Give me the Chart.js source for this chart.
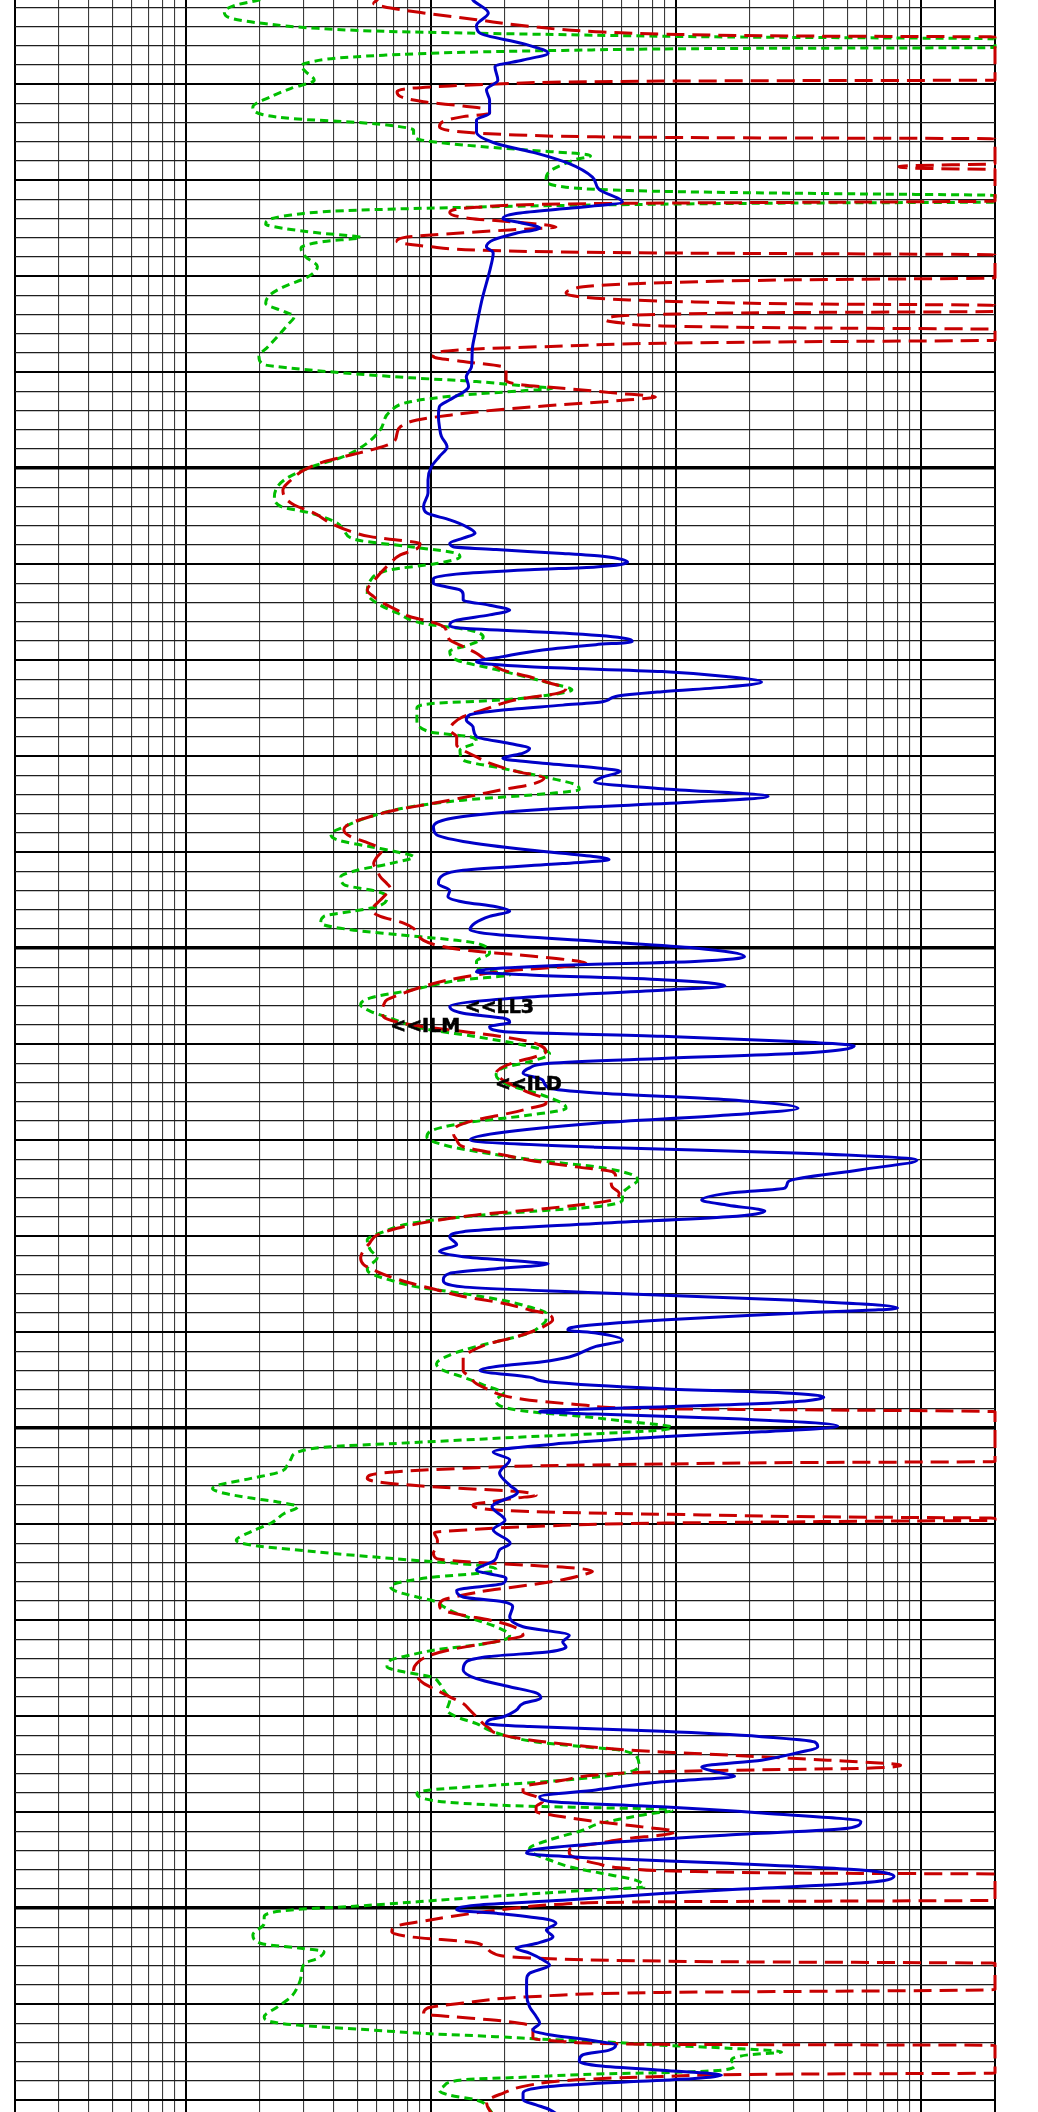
<!DOCTYPE html>
<html><head><meta charset="utf-8">
<script src="https://cdn.jsdelivr.net/npm/chart.js@4.4.1/dist/chart.umd.min.js"></script>
<style>html,body{margin:0;padding:0;background:#fff;}canvas{display:block;}</style>
</head><body>
<canvas id="c" width="1038" height="2112"></canvas>
<script>
// ---- LL3 (blue, solid) ----
const ll3Depth = [
4000.2,4001.25,4002.6,4003.9,4004.7,4005.8,4006.8,4007.5,4008.2,4009.6,
4010.6,4011.7,4013.05,4013.75,4015.0,4016.2,4017.2,4018.3,4019.7,4021.0,
4022.3,4023.0,4023.5,4024.0,4024.5,4025.0,4025.55,4026.25,4026.95,4027.6,
4029.0,4032.5,4036.0,4037.7,4039.45,4040.5,4041.5,4042.9,4043.6,4044.65,
4045.7,4046.7,4047.8,4048.8,4049.9,4051.25,4052.6,4054.0,4054.7,4055.4,
4056.1,4056.8,4057.3,4057.85,4058.2,4058.5,4058.9,4059.2,4059.8,4060.3,
4060.6,4061.0,4061.5,4062.0,4062.7,4063.2,4063.75,4064.3,4064.8,4065.3,
4065.85,4066.35,4066.7,4067.2,4067.7,4068.1,4068.4,4068.95,4069.65,4070.2,
4070.7,4071.2,4071.75,4072.3,4072.8,4073.3,4073.8,4074.35,4074.7,4075.2,
4075.7,4076.25,4076.95,4078.0,4078.7,4079.2,4079.7,4080.25,4080.8,4081.3,
4081.6,4082.2,4082.7,4083.4,4084.2,4084.8,4085.45,4086.3,4087.4,4088.2,
4088.9,4089.8,4090.5,4090.8,4091.2,4091.9,4092.4,4093.3,4094.0,4094.65,
4095.2,4095.7,4096.15,4096.7,4097.4,4098.1,4098.6,4099.3,4100.0,4100.9,
4101.4,4101.8,4102.2,4102.5,4102.8,4103.3,4103.95,4104.4,4105.1,4106.1,
4106.8,4107.3,4107.75,4108.2,4108.7,4109.2,4109.75,4110.2,4111.0,4111.5,
4112.0,4112.5,4113.05,4113.75,4114.6,4115.1,4115.8,4116.7,4117.4,4118.25,
4119.3,4120.0,4120.75,4121.35,4122.1,4123.1,4124.35,4125.0,4125.55,4126.25,
4126.8,4127.4,4128.0,4128.7,4129.55,4130.1,4130.9,4131.6,4132.15,4132.7,
4132.9,4133.4,4133.9,4134.6,4135.3,4135.9,4136.7,4137.5,4138.05,4138.75,
4139.45,4139.8,4140.1,4140.85,4141.5,4142.6,4143.1,4143.6,4144.0,4144.7,
4145.2,4145.9,4146.4,4146.8,4147.45,4148.0,4148.3,4148.55,4149.0,4149.8,
4150.4,4150.9,4151.6,4152.5,4153.3,4154.7,4156.0,4156.7,4158.2,4159.6,
4160.6,4162.0,4162.7,4163.75,4164.8,4165.65,4166.2,4166.9,4167.6,4168.1,
4168.6,4169.7,4170.7,4171.6,4172.3,4172.8,4173.3,4173.8,4174.35,4175.2,
4176.1,4176.95,4177.6,4178.15,4178.7,4179.4,4180.1,4180.4,4180.8,4181.1,
4181.6,4182.15,4182.7,4183.2,4183.9,4184.6,4185.3,4185.8,4186.3,4186.85,
4187.7,4188.4,4188.9,4189.45,4190.1,4191.0,4191.7,4192.4,4193.3,4194.0,
4194.3,4194.8,4195.35,4196.05,4196.7,4197.4,4198.1,4198.5,4199.2,4199.7,
4200.2,4200.55,4201.1,4201.6,4202.3,4203.0,4203.7,4204.2,4204.7,4205.4,
4205.95,4206.8,4207.5,4208.9,4210.3,4211.3,4212.0,4212.7,4213.2,4213.75,
4214.3,4214.8,4215.3,4215.9,4216.4,4216.9,4217.4,4217.75,4218.1,4218.6,
4219.3,4220.0,4220.5,4221.0,4222.6
];
const ll3Value = [
14.4,14.8,17.1,15.3,15.8,23.7,30.0,23.7,18.2,18.7,
16.8,17.3,17.3,15.3,15.3,18.4,26.8,36.6,45.5,48.5,
60.3,34.4,22.2,19.6,23.7,27.7,22.2,17.9,16.8,17.9,
17.5,16.1,15.1,14.7,14.6,13.9,14.2,11.9,10.8,10.7,
10.8,11.0,11.6,10.8,10.0,9.7,9.7,9.3,9.6,11.9,
13.9,15.1,13.5,11.9,12.3,18.4,34.4,50.0,63.3,47.0,
25.2,13.5,10.2,10.2,13.1,13.5,13.5,17.3,20.9,17.3,
12.7,11.9,13.5,34.4,60.3,66.1,47.0,28.5,19.6,15.3,
25.2,87.5,163,223,163,87.5,56.6,50.0,34.4,19.6,
14.4,13.9,14.8,15.3,20.9,25.2,23.7,19.6,30.4,50.0,
59.0,50.0,46.4,87.5,237,119,34.4,13.5,10.2,10.5,
13.5,25.2,47.0,53.2,34.4,13.5,11.2,10.7,11.9,11.7,
13.5,18.4,20.9,17.3,15.1,14.4,18.4,47.0,119,190,
119,34.4,17.3,15.3,25.2,87.5,158,87.5,25.2,11.9,
13.5,19.6,20.9,17.3,19.6,87.5,304,533,304,87.5,
30.4,25.2,23.7,28.5,30.4,47.0,163,314,163,47.0,
18.4,14.4,47.0,304,960,567,286,278,163,127,
163,230,163,47.0,13.5,11.9,12.7,10.8,13.5,25.2,
30.0,18.4,11.9,11.2,13.5,47.0,304,800,304,87.5,
39.0,36.1,47.0,60.3,47.0,36.6,28.5,18.4,15.8,25.2,
30.4,87.5,304,400,223,47.0,27.7,47.0,163,456,
223,87.5,34.4,17.9,20.9,19.0,21.0,22.5,17.7,20.0,
17.9,21.0,19.0,18.2,15.3,20.2,19.6,12.7,13.5,19.6,
21.5,20.9,23.7,36.6,34.4,35.5,30.4,17.3,13.9,13.5,
15.3,20.9,26.8,28.0,23.7,22.2,19.6,17.3,16.8,25.2,
87.5,223,367,378,304,223,127,144,173,87.5,
47.0,27.7,30.4,87.5,223,567,501,163,47.0,25.2,
24.5,47.0,163,567,774,567,163,87.5,34.4,15.3,
12.7,18.4,28.5,32.3,29.5,31.4,26.8,22.2,25.2,28.5,
30.4,25.2,24.5,24.5,25.2,26.8,27.7,26.0,30.4,44.1,
56.6,53.2,41.5,40.2,47.0,87.5,153,119,64.1,30.4,
23.7,23.7,26.8,30.4,36.6
];

// ---- ILM (green, short dash) ----
const ilmDepth = [
4000.2,4001.25,4001.8,4002.5,4003.2,4003.7,4004.2,4004.55,4004.8,4005.1,
4005.3,4006.2,4006.3,4006.5,4006.7,4007.0,4007.3,4007.7,4008.1,4008.7,
4009.6,4010.45,4011.3,4012.4,4013.2,4013.65,4014.0,4014.4,4014.8,4015.3,
4015.8,4016.35,4016.9,4017.3,4017.5,4017.85,4018.4,4019.1,4020.0,4020.7,
4021.1,4021.3,4021.45,4021.6,4022.3,4022.4,4022.6,4022.85,4023.2,4023.65,
4024.2,4024.6,4025.05,4025.5,4026.0,4026.4,4027.1,4028.0,4029.0,4030.1,
4031.1,4032.0,4032.85,4033.7,4034.2,4035.1,4036.3,4037.4,4038.4,4039.2,
4039.6,4040.1,4040.6,4041.0,4041.5,4041.7,4041.95,4042.4,4043.1,4044.1,
4046.0,4047.4,4048.8,4049.9,4051.25,4053.0,4054.0,4054.7,4055.75,4056.5,
4057.5,4058.2,4058.9,4059.25,4059.95,4060.6,4061.7,4063.05,4064.1,4065.1,
4066.2,4066.9,4067.6,4068.4,4069.1,4070.0,4071.0,4072.4,4073.1,4073.65,
4074.2,4074.5,4075.0,4076.25,4077.5,4078.0,4078.5,4079.4,4080.4,4081.3,
4082.3,4083.0,4083.5,4083.9,4084.6,4085.3,4086.3,4087.4,4088.1,4088.75,
4089.45,4090.0,4090.5,4091.2,4091.9,4092.6,4093.4,4094.1,4094.65,4095.7,
4096.2,4096.7,4097.4,4098.1,4098.6,4099.2,4099.5,4100.55,4101.4,4102.1,
4102.8,4103.3,4104.4,4105.2,4105.9,4106.6,4107.3,4108.4,4109.25,4110.1,
4111.0,4111.85,4112.5,4113.25,4114.3,4115.1,4116.2,4116.7,4117.4,4118.25,
4119.1,4119.7,4120.5,4121.2,4122.1,4122.8,4123.5,4124.2,4124.9,4125.6,
4126.25,4126.95,4127.45,4128.0,4128.7,4129.55,4130.4,4131.45,4132.3,4133.4,
4133.9,4134.6,4135.3,4136.0,4136.7,4137.4,4138.05,4138.75,4139.45,4140.1,
4140.85,4141.5,4142.4,4143.3,4144.0,4144.7,4145.5,4146.4,4147.1,4147.8,
4148.3,4148.8,4149.35,4149.9,4150.2,4150.6,4150.9,4151.25,4151.6,4151.95,
4152.5,4153.2,4153.85,4154.55,4155.25,4155.95,4156.3,4156.8,4157.3,4157.7,
4158.2,4158.9,4159.9,4160.8,4161.7,4162.2,4162.7,4163.05,4163.4,4163.75,
4164.1,4164.45,4164.8,4165.15,4165.5,4166.0,4166.5,4167.05,4167.6,4168.1,
4168.6,4169.3,4170.0,4170.7,4171.6,4172.1,4172.6,4173.1,4173.65,4174.2,
4174.9,4175.4,4175.9,4176.6,4177.3,4178.35,4179.4,4180.1,4180.8,4181.5,
4182.15,4182.7,4183.2,4183.5,4183.9,4184.4,4185.1,4185.6,4186.1,4186.7,
4187.2,4187.7,4188.05,4188.6,4189.1,4189.4,4189.55,4189.7,4189.9,4190.1,
4190.7,4191.2,4191.9,4192.9,4193.8,4194.3,4195.0,4195.7,4196.4,4197.1,
4197.8,4198.1,4199.0,4199.8,4200.2,4200.9,4201.6,4202.8,4203.7,4204.2,
4204.55,4205.25,4205.8,4207.2,4208.2,4209.25,4210.3,4211.35,4211.85,4212.2,
4212.7,4213.1,4213.4,4213.7,4213.9,4214.3,4214.6,4215.0,4215.3,4215.85,
4216.4,4216.9,4217.15,4217.3,4217.6,4217.9,4218.6,4219.0,4219.5,4220.0,
4221.0,4222.6
];
const ilmValue = [
2.51,1.98,1.58,1.43,1.55,2.08,3.43,7.25,25.2,163,
2000,2000,163,34.4,13.5,6.40,4.14,3.23,2.94,3.07,
3.33,2.68,2.22,1.87,2.06,2.85,4.99,7.25,8.47,8.47,
9.0,13.5,25.2,41.5,44.7,39.0,34.4,30.4,29.4,34.4,
64.1,163,567,2000,2000,304,47.0,13.5,4.40,2.68,
2.15,2.11,2.51,3.43,5.15,3.65,2.94,3.07,3.43,3.13,
2.51,2.19,2.11,2.51,2.76,2.59,2.36,2.15,1.98,2.06,
2.68,4.40,8.21,15.3,25.2,31.3,23.7,13.5,8.21,6.81,
6.20,5.48,4.40,3.23,2.51,2.29,2.43,3.23,4.14,4.40,
4.99,8.21,12.7,13.1,10.5,6.81,5.65,5.48,6.01,7.25,
9.30,14.4,16.3,14.4,11.9,12.7,18.4,30.4,37.5,30.4,
18.4,10.5,8.74,8.74,9.90,14.4,15.3,13.1,13.5,19.6,
30.4,39.0,40.2,30.4,13.5,8.21,5.65,4.40,3.89,4.14,
5.65,7.25,8.47,6.81,4.99,4.27,4.40,6.01,6.60,6.01,
4.69,3.65,3.54,4.69,7.25,12.7,15.3,17.3,15.3,15.3,
20.9,13.5,8.21,5.65,5.15,5.65,6.81,9.30,15.3,23.7,
30.4,25.2,19.6,18.4,20.9,26.8,34.4,35.5,25.2,13.5,
9.90,9.60,11.2,15.3,26.8,47.0,64.1,69.5,64.1,60.3,
60.3,47.0,25.2,13.5,8.21,6.40,5.48,5.65,6.01,5.48,
5.65,6.81,8.74,13.5,19.6,25.2,29.4,29.4,27.7,25.2,
19.6,15.3,11.9,10.5,11.2,13.5,16.3,19.6,18.4,19.6,
25.2,41.5,64.1,96,87.5,47.0,25.2,13.5,7.25,3.89,
2.85,2.68,2.59,2.43,1.84,1.35,1.28,1.43,1.84,2.36,
2.85,2.51,2.22,1.84,1.60,1.84,2.85,3.89,5.65,8.21,
12.7,17.3,18.4,15.3,10.5,7.71,6.81,7.25,8.74,10.5,
11.2,12.7,15.3,18.4,20.9,19.6,15.3,10.5,8.21,6.81,
6.60,7.71,9.90,10.8,11.2,11.9,11.6,12.7,15.3,17.3,
20.9,26.8,41.5,56.6,66.1,69.5,70.4,68.2,56.6,34.4,
18.4,9.90,8.74,9.30,13.5,25.2,47.0,87.5,96,82.2,
60.3,48.5,41.5,30.4,25.2,26.0,30.4,36.6,50.0,68.2,
73.9,47.0,13.5,4.99,2.68,2.08,2.08,1.87,2.02,2.94,
3.65,3.43,3.03,2.94,2.85,2.68,2.36,2.08,2.22,2.85,
5.65,9.90,18.4,30.4,47.0,87.5,163,269,196,168,
173,153,87.5,47.0,25.2,13.5,11.2,10.8,11.9,15.3,
17.3,18.4
];

// ---- ILD (red, long dash) ----
const ildDepth = [
4000.2,4001.25,4001.6,4001.95,4002.6,4003.3,4004.0,4004.55,4004.8,4005.0,
4005.1,4009.6,4009.65,4009.7,4009.8,4010.0,4010.2,4010.45,4010.8,4011.3,
4011.85,4012.3,4012.7,4013.05,4013.4,4013.9,4014.45,4015.0,4015.3,4015.5,
4015.6,4015.7,4018.3,4018.5,4018.6,4018.8,4018.9,4022.2,4022.3,4022.4,
4022.5,4022.85,4023.4,4024.0,4024.45,4024.9,4025.2,4025.55,4026.0,4026.4,
4026.95,4027.3,4027.5,4027.6,4027.8,4030.2,4030.4,4030.7,4031.0,4031.5,
4031.8,4032.2,4032.5,4032.7,4032.9,4033.05,4033.7,4033.8,4034.0,4034.2,
4034.6,4034.9,4035.2,4035.4,4035.55,4036.7,4036.85,4037.0,4037.3,4037.6,
4038.0,4038.4,4038.9,4039.45,4039.7,4040.85,4041.35,4041.7,4042.2,4042.6,
4042.9,4043.4,4043.95,4044.5,4045.0,4045.7,4046.4,4047.3,4047.95,4048.65,
4049.35,4050.2,4051.25,4052.3,4053.2,4053.85,4054.7,4055.75,4056.6,4057.15,
4057.5,4057.85,4058.4,4059.05,4059.9,4060.95,4061.8,4062.7,4063.4,4064.1,
4064.8,4065.5,4066.0,4066.5,4067.2,4067.9,4068.6,4069.3,4069.8,4070.5,
4071.05,4071.75,4072.4,4072.95,4073.5,4074.0,4074.5,4075.2,4075.9,4076.6,
4077.3,4078.0,4078.85,4079.4,4080.1,4080.75,4081.6,4082.3,4083.0,4083.5,
4084.05,4084.6,4085.1,4085.6,4086.3,4087.0,4087.7,4088.4,4088.9,4089.45,
4090.0,4090.5,4091.2,4091.9,4092.6,4093.3,4093.8,4094.3,4095.0,4095.7,
4096.2,4096.7,4097.4,4097.95,4098.5,4099.2,4099.7,4100.2,4100.7,4101.25,
4101.6,4101.95,4102.3,4102.8,4103.3,4104.0,4104.7,4105.4,4105.9,4106.5,
4107.2,4107.7,4108.2,4108.7,4109.25,4109.75,4110.3,4110.8,4111.3,4111.85,
4112.4,4113.05,4113.75,4114.45,4115.1,4115.8,4116.2,4116.7,4117.2,4117.9,
4118.6,4119.3,4120.0,4120.7,4121.4,4122.1,4122.8,4123.3,4123.8,4124.35,
4124.9,4125.55,4126.25,4126.8,4127.3,4127.8,4128.5,4129.2,4129.9,4130.8,
4131.65,4132.3,4133.0,4133.7,4134.25,4134.9,4135.6,4136.3,4137.0,4137.7,
4138.2,4138.75,4139.3,4139.8,4140.5,4141.2,4141.9,4142.6,4143.3,4144.0,
4144.7,4145.4,4146.05,4146.6,4147.1,4147.6,4148.0,4148.1,4148.3,4153.5,
4153.6,4153.75,4153.95,4154.2,4154.55,4154.9,4155.25,4155.6,4155.95,4156.3,
4156.6,4157.0,4157.3,4157.7,4158.0,4158.55,4158.85,4159.05,4159.25,4159.4,
4159.6,4159.75,4159.9,4160.2,4160.6,4160.9,4161.7,4162.4,4163.05,4163.6,
4163.9,4164.3,4164.6,4164.95,4165.3,4165.8,4166.35,4166.9,4167.4,4167.9,
4168.45,4169.0,4169.5,4170.0,4170.55,4171.05,4171.6,4172.1,4172.6,4173.1,
4173.8,4174.5,4175.2,4175.9,4176.6,4177.3,4178.0,4178.7,4179.4,4180.1,
4180.8,4181.3,4181.8,4182.5,4183.05,4183.6,4183.9,4184.25,4184.6,4184.95,
4185.1,4185.45,4185.6,4185.8,4186.15,4186.7,4187.4,4187.9,4188.4,4188.9,
4189.45,4189.95,4190.5,4191.0,4191.55,4192.05,4192.4,4192.75,4193.3,4193.6,
4194.0,4194.3,4194.8,4195.35,4195.9,4196.2,4196.4,4196.45,4199.2,4199.35,
4199.6,4200.0,4200.5,4201.25,4202.0,4202.5,4203.0,4203.65,4204.7,4205.2,
4205.6,4205.75,4208.5,4208.8,4209.25,4209.9,4210.45,4211.0,4211.3,4211.7,
4212.2,4212.5,4213.6,4213.9,4214.2,4214.3,4217.2,4217.3,4217.55,4217.9,
4218.45,4219.3,4220.2,4221.1,4222.6
];
const ildValue = [
6.40,6.01,5.82,6.40,9.30,15.3,25.2,47.0,87.5,304,
2000,2000,304,87.5,34.4,18.4,11.9,8.21,7.25,7.48,
9.30,13.5,17.3,17.3,13.5,11.2,10.8,13.5,22.2,47.0,
163,2000,2000,933,810,1057,2000,2000,567,87.5,
34.4,15.3,11.9,14.4,23.7,32.3,20.9,12.7,7.71,7.25,
9.90,15.3,34.4,87.5,2000,2000,304,87.5,47.0,36.6,
35.5,41.5,64.1,119,304,2000,2000,304,87.5,56.6,
51.6,60.3,87.5,304,2000,2000,304,87.5,34.4,15.3,
10.5,10.2,13.5,19.6,20.2,20.2,23.7,34.4,56.6,82.2,
64.1,34.4,18.4,11.9,8.74,7.48,7.25,7.02,6.01,4.69,
3.65,3.03,2.68,2.48,2.55,2.76,3.33,3.89,4.69,5.65,
7.25,9.0,8.74,7.48,6.81,6.20,5.82,5.48,5.82,6.40,
7.25,8.21,9.90,11.2,11.6,11.9,13.5,15.3,16.3,17.9,
19.6,25.2,30.4,35.5,32.3,23.7,19.6,16.3,13.5,12.3,
11.9,12.7,12.7,13.5,15.3,17.3,22.2,28.9,25.2,19.6,
15.3,11.9,9.30,7.25,5.65,4.69,4.40,4.69,5.31,6.01,
6.25,6.01,5.82,6.01,6.20,6.60,6.81,6.60,6.20,5.82,
5.76,6.20,7.71,8.47,8.74,9.30,10.5,13.5,22.2,36.6,
42.8,34.4,22.2,15.3,11.9,9.30,7.71,6.60,6.40,6.30,
6.40,7.25,9.30,13.5,19.6,25.2,28.5,29.4,26.8,22.2,
19.6,18.4,19.6,22.2,25.2,29.4,29.4,25.2,20.9,15.3,
12.7,12.3,12.7,13.5,18.4,25.2,39.0,54.9,56.6,54.2,
54.9,58.5,54.9,39.0,25.2,15.3,9.90,7.25,6.01,5.58,
5.25,5.15,5.31,6.01,6.81,8.21,10.5,13.5,19.6,25.2,
30.4,31.3,29.4,26.8,22.2,17.3,14.8,13.5,13.5,13.5,
14.4,15.3,17.3,19.6,25.2,41.5,87.5,304,2000,2000,
304,87.5,25.2,13.5,7.25,5.65,5.48,6.01,8.21,13.5,
22.2,26.8,22.2,17.3,14.8,18.4,42.9,129,387,2000,
2000,387,89,29.7,14.3,10.3,10.6,10.5,10.2,10.5,
13.5,25.2,39.0,45.5,41.5,34.4,25.2,17.3,13.5,11.2,
10.8,11.2,13.5,17.3,20.9,22.9,23.7,19.6,15.3,11.9,
9.60,8.74,8.47,8.74,9.30,10.5,11.9,13.5,14.4,15.3,
16.3,17.3,18.4,25.2,39.0,68.2,119,223,415,728,
824,567,223,87.5,47.0,34.4,23.7,23.7,26.8,28.5,
26.8,26.8,34.4,47.0,72.6,99.1,87.5,64.1,47.0,39.0,
36.6,36.6,39.0,47.0,64.1,119,567,2000,2000,87.5,
34.4,22.2,15.3,9.90,7.02,6.90,8.21,15.3,17.9,25.2,
163,2000,2000,87.5,25.2,13.5,9.60,9.30,11.9,18.4,
25.2,26.0,26.0,34.4,87.5,2000,2000,304,87.5,39.0,
25.2,19.6,16.8,17.3,19.6
];

// ---- curve labels ----
const labelText  = ['<<LL3', '<<ILM', '<<ILD'];
const labelValue = [13.7, 6.8, 18.2];
const labelDepth = [4106.8, 4108.8, 4114.8];

// ---- grid / axis definitions ----
const xGridValues = [0.2,0.3,0.4,0.5,0.6,0.7,0.8,0.9,
  1,2,3,4,5,6,7,8,9, 10,20,30,40,50,60,70,80,90,
  100,200,300,400,500,600,700,800,900, 1000,2000];
const xMin = 0.2, xMax = 2000;
const depthTop = 4001.25, depthBottom = 4221.25;
const depthGridStep = 2, depthMediumStep = 10, depthMajorStep = 50;

function pts(d, v) { return d.map((y, i) => ({x: v[i], y: y})); }
function isDecade(v) { const l = Math.log10(v); return Math.abs(l - Math.round(l)) < 1e-6; }

const labelPlugin = {
  id: 'curveLabels',
  afterDatasetsDraw(chart) {
    const ctx = chart.ctx, xs = chart.scales.x, ys = chart.scales.y;
    ctx.save();
    ctx.font = 'bold 19px "DejaVu Sans"';
    ctx.fillStyle = '#000';
    ctx.strokeStyle = '#000';
    ctx.lineWidth = 0.6;
    ctx.textBaseline = 'alphabetic';
    ctx.textAlign = 'left';
    labelText.forEach((t, i) => {
      const px = xs.getPixelForValue(labelValue[i]), py = ys.getPixelForValue(labelDepth[i]);
      ctx.fillText(t, px, py);
      ctx.strokeText(t, px, py);
    });
    ctx.restore();
  }
};

const common = { pointRadius: 0, pointHoverRadius: 0, fill: false, borderCapStyle: 'butt',
  borderJoinStyle: 'round', cubicInterpolationMode: 'monotone',
  clip: {left: 2, right: 3, top: false, bottom: false} };

new Chart(document.getElementById('c'), {
  type: 'line',
  data: {
    datasets: [
      Object.assign({ label: 'LL3', data: pts(ll3Depth, ll3Value), borderColor: 'rgb(0,0,200)',
        borderWidth: 3, order: 0 }, common),
      Object.assign({ label: 'ILD', data: pts(ildDepth, ildValue), borderColor: 'rgb(200,0,0)',
        borderWidth: 3, borderDash: [18, 8], order: 1 }, common),
      Object.assign({ label: 'ILM', data: pts(ilmDepth, ilmValue), borderColor: 'rgb(0,190,0)',
        borderWidth: 3, borderDash: [8, 5], order: 2 }, common)
    ]
  },
  options: {
    indexAxis: 'y',
    responsive: false,
    devicePixelRatio: 1,
    animation: false,
    events: [],
    layout: { padding: { left: 15, right: 43, top: 0, bottom: 0 } },
    plugins: { legend: { display: false }, tooltip: { enabled: false }, title: { display: false } },
    scales: {
      x: {
        type: 'logarithmic', min: xMin, max: xMax, bounds: 'data', position: 'bottom',
        afterBuildTicks: s => { s.ticks = xGridValues.map(v => ({ value: v })); },
        ticks: { display: false },
        border: { display: false },
        grid: {
          drawTicks: false,
          color: c => (isDecade(c.tick.value) || c.tick.value === xMin || c.tick.value === xMax) ? '#000' : '#3c3c3c',
          lineWidth: c => (isDecade(c.tick.value) || c.tick.value === xMin || c.tick.value === xMax) ? 2 : 1.1
        }
      },
      y: {
        type: 'linear', reverse: true, min: depthTop, max: depthBottom, bounds: 'data', position: 'left',
        afterBuildTicks: s => {
          const t = [];
          for (let d = Math.ceil(depthTop / depthGridStep) * depthGridStep; d <= depthBottom; d += depthGridStep) t.push({ value: d });
          s.ticks = t;
        },
        ticks: { display: false },
        border: { display: false },
        grid: {
          drawTicks: false,
          color: c => (c.tick.value % depthMediumStep === 0) ? '#000' : '#1e1e1e',
          lineWidth: c => (c.tick.value % depthMajorStep === 0) ? 3.5 : (c.tick.value % depthMediumStep === 0 ? 2 : 1.3)
        }
      }
    }
  },
  plugins: [labelPlugin]
});
</script>
</body></html>
